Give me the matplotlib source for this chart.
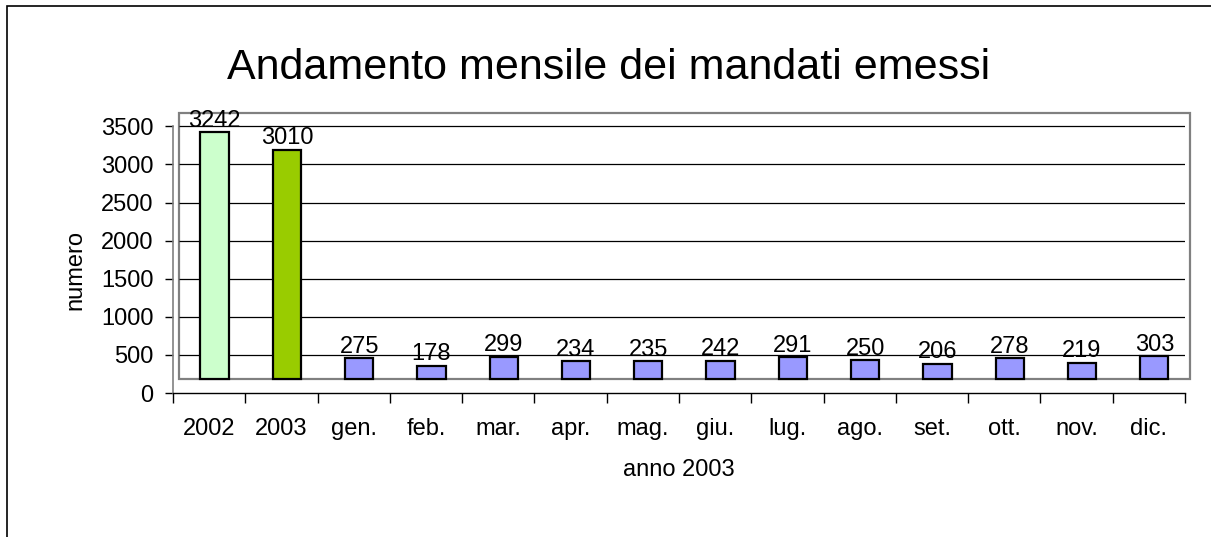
import matplotlib.pyplot as plt
import numpy as np
from matplotlib.patches import Rectangle

plt.rcParams['font.family'] = ['Liberation Sans', 'DejaVu Sans']

# Input data
categories = ['2002', '2003', 'gen.', 'feb.', 'mar.', 'apr.', 'mag.', 'giu.',
              'lug.', 'ago.', 'set.', 'ott.', 'nov.', 'dic.']
values = [3242, 3010, 275, 178, 299, 234, 235, 242, 291, 250, 206, 278, 219, 303]
bar_colors = ['#CCFFCC', '#99CC00'] + ['#9999FF'] * 12
y_ticks = [0, 500, 1000, 1500, 2000, 2500, 3000, 3500]


def main():
    W, H = 1211, 537
    fig = plt.figure(figsize=(W / 100, H / 100), dpi=100)

    # outer chart border (right/bottom edges fall outside the image)
    fig.patches.append(Rectangle((7 / W, -0.5), 2, 1.5 - 6 / H, transform=fig.transFigure,
                                 fill=False, edgecolor='black', linewidth=1.2))

    left, right = 173 / W, 1185 / W
    bottom, top = (H - 393) / H, (H - 113) / H
    ax = fig.add_axes([left, bottom, right - left, top - bottom])
    ax.set_xlim(0, 14)
    ax.set_ylim(0, 3675)

    # pseudo-3D floor offset used by the original chart
    base = 180
    dx = 0.075
    x = np.arange(len(categories)) + 0.5

    # gray back wall and gridlines
    ax.add_patch(Rectangle((0.083, 184), 14.07 - 0.083, 3675 - 184, fill=False,
                           edgecolor='#808080', linewidth=1.6, clip_on=False, zorder=1))
    ax.hlines(y_ticks[1:], 0.083, 14.0, color='black', linewidth=0.9, zorder=1)

    ax.bar(x + dx, values, width=0.39, bottom=base, color=bar_colors,
           edgecolor='black', linewidth=1.6, zorder=3)

    for xi, v in zip(x, values):
        ax.annotate(str(v), (xi + dx, v + base), xytext=(0, 4), textcoords='offset points',
                    ha='center', va='baseline', fontsize=17, zorder=4,
                    annotation_clip=False)

    # axes styling
    for s in ['top', 'right']:
        ax.spines[s].set_visible(False)
    ax.spines['left'].set_bounds(0, 3500)
    ax.spines['left'].set_color('#808080')
    ax.spines['left'].set_linewidth(1.2)
    ax.spines['bottom'].set_color('black')
    ax.spines['bottom'].set_linewidth(1.0)

    ax.set_yticks(y_ticks)
    ax.set_yticklabels([str(t) for t in y_ticks], fontsize=17)
    ax.tick_params(axis='y', direction='out', length=6, width=1, color='black', pad=8)

    ax.set_xticks(np.arange(0, 15))
    ax.set_xticklabels([])
    ax.tick_params(axis='x', which='major', direction='out', length=7, width=1, color='black')
    ax.set_xticks(x, minor=True)
    ax.set_xticklabels(categories, minor=True, fontsize=17)
    ax.tick_params(axis='x', which='minor', length=0, pad=18)

    ax.set_facecolor('none')

    fig.text(609 / W, 1 - 68 / H, 'Andamento mensile dei mandati emessi',
             ha='center', va='center', fontsize=31)
    fig.text(75 / W, 1 - 270 / H, 'numero', rotation=90, ha='center', va='center', fontsize=17)
    fig.text(679 / W, 1 - 470 / H, 'anno 2003', ha='center', va='center', fontsize=17)

    fig.savefig('out.png', dpi=100)


if __name__ == "__main__":
    main()
